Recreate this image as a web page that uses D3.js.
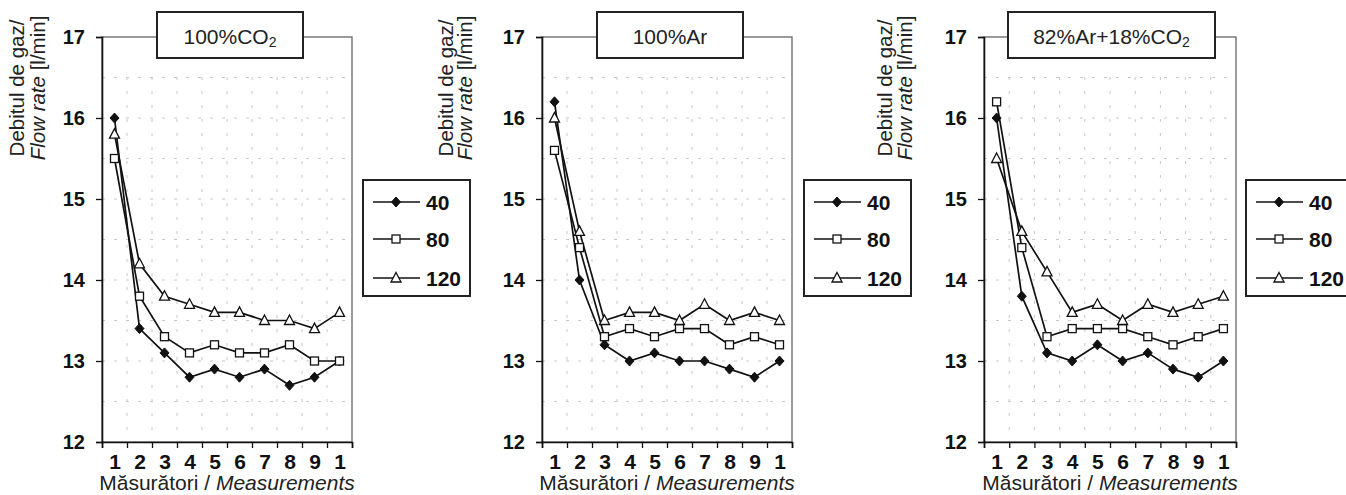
<!DOCTYPE html>
<html>
<head>
<meta charset="utf-8">
<script src="https://cdn.jsdelivr.net/npm/d3@7"></script>
<style>
  body { margin: 0; background: #fff; }
  text { font-family: "Liberation Sans", Arial, sans-serif; }
</style>
</head>
<body>
<div id="container"></div>
<script>
// measurement labels as printed (10th shows as "1")
let measureLabels = ["1", "2", "3", "4", "5", "6", "7", "8", "9", "1"];
let seriesNames = ["40", "80", "120"];
let yTicks = [12, 13, 14, 15, 16, 17];

// 100% CO2
let co2_40 = [16.0, 13.4, 13.1, 12.8, 12.9, 12.8, 12.9, 12.7, 12.8, 13.0];
let co2_80 = [15.5, 13.8, 13.3, 13.1, 13.2, 13.1, 13.1, 13.2, 13.0, 13.0];
let co2_120 = [15.8, 14.2, 13.8, 13.7, 13.6, 13.6, 13.5, 13.5, 13.4, 13.6];

// 100% Ar
let ar_40 = [16.2, 14.0, 13.2, 13.0, 13.1, 13.0, 13.0, 12.9, 12.8, 13.0];
let ar_80 = [15.6, 14.4, 13.3, 13.4, 13.3, 13.4, 13.4, 13.2, 13.3, 13.2];
let ar_120 = [16.0, 14.6, 13.5, 13.6, 13.6, 13.5, 13.7, 13.5, 13.6, 13.5];

// 82% Ar + 18% CO2
let mix_40 = [16.0, 13.8, 13.1, 13.0, 13.2, 13.0, 13.1, 12.9, 12.8, 13.0];
let mix_80 = [16.2, 14.4, 13.3, 13.4, 13.4, 13.4, 13.3, 13.2, 13.3, 13.4];
let mix_120 = [15.5, 14.6, 14.1, 13.6, 13.7, 13.5, 13.7, 13.6, 13.7, 13.8];

let w = 1346;
let h = 495;
let plotTop = 37, plotBottom = 442;

let svg = d3.select("#container")
  .append("svg")
  .attr("width", w)
  .attr("height", h);

let y = d3.scaleLinear().domain([12, 17]).range([plotBottom, plotTop]);

function marker(g, kind, cx, cy) {
  if (kind == 0) {
    g.append("path")
      .attr("d", `M${cx},${cy - 5}L${cx + 4.5},${cy}L${cx},${cy + 5}L${cx - 4.5},${cy}Z`)
      .attr("fill", "#111").attr("stroke", "#111").attr("stroke-width", 1);
  } else if (kind == 1) {
    g.append("rect")
      .attr("x", cx - 4).attr("y", cy - 4).attr("width", 8).attr("height", 8)
      .attr("fill", "#fff").attr("stroke", "#111").attr("stroke-width", 1.3);
  } else {
    g.append("path")
      .attr("d", `M${cx},${cy - 5.5}L${cx + 5},${cy + 4}L${cx - 5},${cy + 4}Z`)
      .attr("fill", "#fff").attr("stroke", "#111").attr("stroke-width", 1.3);
  }
}

function drawPanel(p) {
  let g = svg.append("g");
  let x = d3.scaleLinear().domain([0, measureLabels.length]).range([p.left, p.right]);

  // grid
  let hLines = d3.range(12.5, 17, 0.5);
  g.selectAll(".hg").data(hLines).enter().append("line")
    .attr("x1", p.left).attr("x2", p.right)
    .attr("y1", d => y(d)).attr("y2", d => y(d))
    .attr("stroke", "#c8c8c8").attr("stroke-dasharray", "3,9");
  g.selectAll(".vg").data(d3.range(1, measureLabels.length)).enter().append("line")
    .attr("x1", d => x(d)).attr("x2", d => x(d))
    .attr("y1", plotTop + 40).attr("y2", plotBottom)
    .attr("stroke", "#c8c8c8").attr("stroke-dasharray", "3,11");

  // frame
  g.append("rect")
    .attr("x", p.left).attr("y", plotTop)
    .attr("width", p.right - p.left).attr("height", plotBottom - plotTop)
    .attr("fill", "none").attr("stroke", "#666").attr("stroke-width", 1.3);

  // y axis
  let yAxis = g.append("g")
    .attr("transform", `translate(${p.left},0)`)
    .call(d3.axisLeft(y).tickValues(yTicks).tickSize(6).tickPadding(11).tickFormat(d3.format("d")));
  yAxis.select(".domain").attr("stroke", "#111").attr("stroke-width", 1.6);
  yAxis.selectAll(".tick line").attr("stroke", "#111").attr("stroke-width", 1.3);
  yAxis.selectAll(".tick text")
    .attr("font-size", 20).attr("font-weight", "bold").attr("fill", "#111")
    .attr("font-family", "Liberation Sans, Arial, sans-serif");

  // x axis: ticks on category boundaries
  let xAxis = g.append("g")
    .attr("transform", `translate(0,${plotBottom})`)
    .call(d3.axisBottom(x).tickValues(d3.range(0, measureLabels.length + 1)).tickSize(6).tickFormat(""));
  xAxis.select(".domain").attr("stroke", "#111").attr("stroke-width", 1.6);
  xAxis.selectAll(".tick line").attr("stroke", "#111").attr("stroke-width", 1.3);

  // x labels at category centres
  let xLab = g.append("g")
    .attr("transform", `translate(0,${plotBottom})`)
    .call(d3.axisBottom(x).tickValues(d3.range(measureLabels.length).map(i => i + 0.5))
      .tickSize(0).tickPadding(12).tickFormat(d => measureLabels[Math.floor(d)]));
  xLab.select(".domain").remove();
  xLab.selectAll(".tick text")
    .attr("font-size", 21).attr("font-weight", "bold").attr("fill", "#111")
    .attr("font-family", "Liberation Sans, Arial, sans-serif");

  // x title
  let xt = g.append("text")
    .attr("x", (p.left + p.right) / 2).attr("y", 490)
    .attr("text-anchor", "middle").attr("font-size", 21).attr("fill", "#222");
  xt.append("tspan").text("Măsurători / ");
  xt.append("tspan").attr("font-style", "italic").text("Measurements");

  // y title
  g.append("text")
    .attr("transform", `translate(${p.lab1},88) rotate(-90)`)
    .attr("text-anchor", "middle").attr("font-size", 20.5).attr("fill", "#222")
    .attr("dy", "0.35em")
    .text("Debitul de gaz/");
  let yt2 = g.append("text")
    .attr("transform", `translate(${p.lab2},88) rotate(-90)`)
    .attr("text-anchor", "middle").attr("font-size", 20.5).attr("fill", "#222")
    .attr("dy", "0.35em");
  yt2.append("tspan").attr("font-style", "italic").text("Flow rate");
  yt2.append("tspan").text(" [l/min]");

  // series
  let line = d3.line().x((d, i) => x(i + 0.5)).y(d => y(d));
  p.series.forEach((s, k) => {
    g.append("path").datum(s)
      .attr("d", line).attr("fill", "none")
      .attr("stroke", "#111").attr("stroke-width", 1.7);
  });
  p.series.forEach((s, k) => {
    s.forEach((v, i) => marker(g, k, x(i + 0.5), y(v)));
  });

  // title box
  g.append("rect")
    .attr("x", p.tx0).attr("y", 12).attr("width", p.tx1 - p.tx0).attr("height", 46)
    .attr("fill", "#fff").attr("stroke", "#222").attr("stroke-width", 2);
  let tt = g.append("text")
    .attr("x", (p.tx0 + p.tx1) / 2).attr("y", 44)
    .attr("text-anchor", "middle").attr("font-size", 21).attr("fill", "#222");
  p.title.forEach(part => {
    if (part.sub) {
      tt.append("tspan").attr("font-size", 14).attr("dy", 3).text(part.t);
    } else {
      tt.append("tspan").text(part.t);
    }
  });

  // legend
  let lg = g.append("g");
  lg.append("rect")
    .attr("x", p.lx).attr("y", 180).attr("width", 107).attr("height", 116)
    .attr("fill", "#fff").attr("stroke", "#222").attr("stroke-width", 2);
  let rowsY = [202, 239, 278];
  seriesNames.forEach((n, k) => {
    lg.append("line")
      .attr("x1", p.lx + 10).attr("x2", p.lx + 57)
      .attr("y1", rowsY[k]).attr("y2", rowsY[k])
      .attr("stroke", "#111").attr("stroke-width", 1.7);
    marker(lg, k, p.lx + 33, rowsY[k]);
    lg.append("text")
      .attr("x", p.lx + 63).attr("y", rowsY[k]).attr("dy", "0.36em")
      .attr("font-size", 21).attr("font-weight", "bold").attr("fill", "#111")
      .text(n);
  });
}

drawPanel({
  left: 102, right: 352, tx0: 157, tx1: 303, lx: 363, lab1: 17, lab2: 38,
  title: [{ t: "100%CO" }, { t: "2", sub: true }],
  series: [co2_40, co2_80, co2_120]
});
drawPanel({
  left: 542, right: 792, tx0: 597, tx1: 743, lx: 804, lab1: 446, lab2: 465,
  title: [{ t: "100%Ar" }],
  series: [ar_40, ar_80, ar_120]
});
drawPanel({
  left: 984, right: 1236, tx0: 1008, tx1: 1215, lx: 1246, lab1: 885, lab2: 905,
  title: [{ t: "82%Ar+18%CO" }, { t: "2", sub: true }],
  series: [mix_40, mix_80, mix_120]
});
</script>
</body>
</html>
